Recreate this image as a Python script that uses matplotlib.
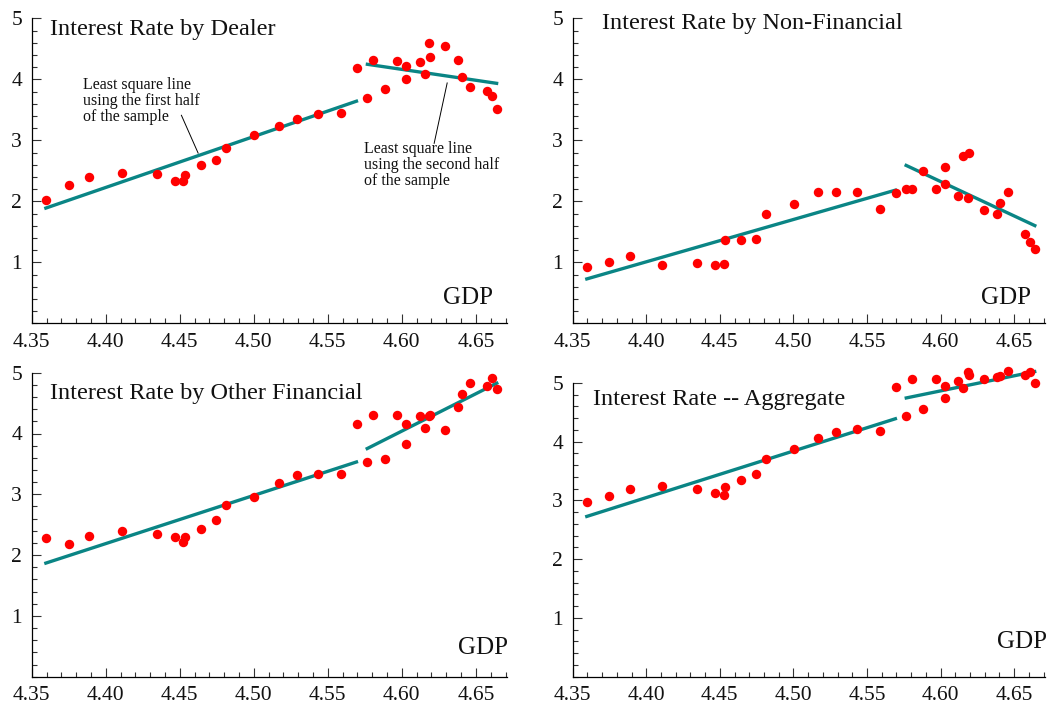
import matplotlib
matplotlib.use("Agg")
from matplotlib import pyplot as plt
from matplotlib.ticker import MultipleLocator, FormatStrFormatter

plt.rcParams['font.family'] = ['Liberation Serif', 'DejaVu Serif']

# log GDP, same for every panel
gdp = [4.3594, 4.3750, 4.3889, 4.4109, 4.4343, 4.4469, 4.4525, 4.4538, 4.4642,
       4.4747, 4.4812, 4.5001, 4.5170, 4.5291, 4.5433, 4.5590, 4.5696, 4.5763,
       4.5808, 4.5884, 4.5970, 4.6028, 4.6028, 4.6122, 4.6154, 4.6185, 4.6192,
       4.6293, 4.6381, 4.6406, 4.6460, 4.6576, 4.6610, 4.6640]

dealer = [2.02, 2.27, 2.40, 2.46, 2.44, 2.33, 2.33, 2.43, 2.59, 2.67, 2.87, 3.08,
          3.24, 3.35, 3.43, 3.44, 4.18, 3.70, 4.31, 3.84, 4.30, 4.21, 4.01, 4.29,
          4.09, 4.60, 4.37, 4.55, 4.32, 4.03, 3.87, 3.81, 3.72, 3.52]
nonfin = [0.93, 1.01, 1.10, 0.95, 0.99, 0.96, 0.97, 1.36, 1.37, 1.39, 1.79, 1.95,
          2.15, 2.15, 2.15, 1.87, 2.13, 2.20, 2.20, 2.49, 2.20, 2.57, 2.28, 2.08,
          2.75, 2.05, 2.80, 1.85, 1.80, 1.98, 2.16, 1.46, 1.34, 1.22]
otherfin = [2.28, 2.19, 2.31, 2.40, 2.34, 2.29, 2.21, 2.30, 2.43, 2.57, 2.82, 2.96,
            3.19, 3.32, 3.33, 3.34, 4.16, 3.53, 4.31, 3.58, 4.30, 4.16, 3.82, 4.29,
            4.09, 4.28, 4.31, 4.05, 4.44, 4.65, 4.83, 4.78, 4.91, 4.73]
aggregate = [2.98, 3.07, 3.19, 3.24, 3.20, 3.13, 3.10, 3.23, 3.35, 3.45, 3.70, 3.87,
             4.07, 4.17, 4.21, 4.19, 4.93, 4.43, 5.06, 4.55, 5.06, 4.95, 4.74, 5.04,
             4.91, 5.18, 5.13, 5.06, 5.11, 5.12, 5.20, 5.13, 5.19, 5.00]

# least square lines (end points), first half and second half of the sample
fit1_x = [4.3585, 4.5704]
fit2_x = [4.5756, 4.6651]
dealer_fit1 = [1.88, 3.65]
dealer_fit2 = [4.25, 3.93]
nonfin_fit1 = [0.72, 2.19]
nonfin_fit2 = [2.60, 1.59]
otherfin_fit1 = [1.86, 3.54]
otherfin_fit2 = [3.74, 4.84]
aggregate_fit1 = [2.72, 4.40]
aggregate_fit2 = [4.74, 5.20]

titles = ["Interest Rate by Dealer", "Interest Rate by Non-Financial",
          "Interest Rate by Other Financial", "Interest Rate -- Aggregate"]

W, H = 1064, 707
fig = plt.figure(figsize=(W / 100, H / 100), dpi=100)

def box(l, r, b, t):
    return [l / W, 1 - b / H, (r - l) / W, (b - t) / H]

ax_tl = fig.add_axes(box(31.7, 507, 323.3, 18.3))
ax_tr = fig.add_axes(box(572.7, 1045, 323.3, 18.3))
ax_bl = fig.add_axes(box(31.7, 507, 676.7, 372.7))
ax_br = fig.add_axes(box(572.7, 1045, 676.7, 383))

teal = '#0a8585'

panels = [
    (ax_tl, dealer, dealer_fit1, dealer_fit2, titles[0], (0.0385, 0.945), (0.9705, 0.063)),
    (ax_tr, nonfin, nonfin_fit1, nonfin_fit2, titles[1], (0.0614, 0.964), (0.971, 0.063)),
    (ax_bl, otherfin, otherfin_fit1, otherfin_fit2, titles[2], (0.0385, 0.913), (1.003, 0.075)),
    (ax_br, aggregate, aggregate_fit1, aggregate_fit2, titles[3], (0.0436, 0.924), (1.004, 0.099)),
]

for ax, y, f1, f2, title, tpos, gpos in panels:
    ax.plot(fit1_x, f1, color=teal, linewidth=2.4, solid_capstyle='butt', clip_on=False)
    ax.plot(fit2_x, f2, color=teal, linewidth=2.4, solid_capstyle='butt', clip_on=False)
    ax.plot(gdp, y, 'o', color='#ff0000', markersize=6.8, markeredgewidth=0, clip_on=False)

    ax.set_xlim(4.35, 4.671)
    ax.set_ylim(0, 5)
    ax.spines['top'].set_visible(False)
    ax.spines['right'].set_visible(False)
    ax.spines['left'].set_linewidth(0.9)
    ax.spines['bottom'].set_linewidth(0.9)
    ax.xaxis.set_major_locator(MultipleLocator(0.05))
    ax.xaxis.set_minor_locator(MultipleLocator(0.01))
    ax.xaxis.set_major_formatter(FormatStrFormatter('%.2f'))
    ax.yaxis.set_major_locator(MultipleLocator(1))
    ax.yaxis.set_minor_locator(MultipleLocator(0.2))
    ax.set_yticks([1, 2, 3, 4, 5])
    ax.tick_params(which='both', direction='in', color='#333333', width=0.8,
                   labelsize=15.5, labelcolor='#111111')
    ax.tick_params(which='major', length=6.5, pad=7)
    ax.tick_params(which='minor', length=3.5)

    ax.text(tpos[0], tpos[1], title, transform=ax.transAxes, fontsize=17.5,
            ha='left', va='baseline', color='#111111')
    ax.text(gpos[0], gpos[1], "GDP", transform=ax.transAxes, fontsize=18,
            ha='right', va='baseline', color='#111111')

# notes on the dealer panel
ax_tl.text(4.3847, 4.03, "Least square line\nusing the first half\nof the sample",
           fontsize=11.5, ha='left', va='top', linespacing=1.0, color='#111111')
ax_tl.plot([4.4511, 4.4624], [3.41, 2.79], color='black', linewidth=0.7)
ax_tl.text(4.5745, 2.99, "Least square line\nusing the second half\nof the sample",
           fontsize=11.5, ha='left', va='top', linespacing=1.0, color='#111111')
ax_tl.plot([4.6306, 4.6218], [3.94, 2.95], color='black', linewidth=0.7)

fig.savefig("out.png", dpi=100)
